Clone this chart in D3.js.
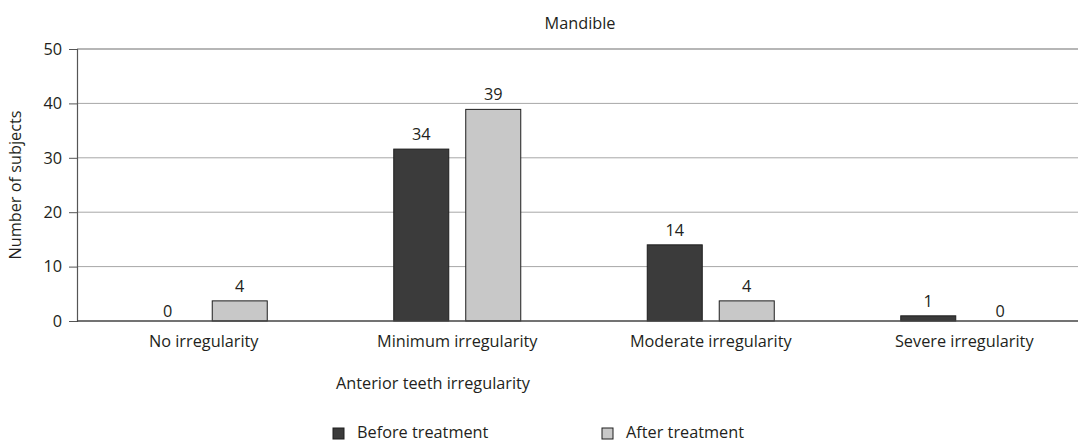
<!DOCTYPE html>
<html><head><meta charset="utf-8">
<script src="https://cdn.jsdelivr.net/npm/d3@7"></script>
<style>
html,body{margin:0;padding:0;background:#fff;}
svg text{font-family:"Open Sans","Noto Sans",sans-serif;fill:#231f20;}
</style></head>
<body><svg id="c" width="1078" height="443"></svg>
<script>
const categories = ["No irregularity","Minimum irregularity","Moderate irregularity","Severe irregularity"];
const seriesNames = ["Before treatment","After treatment"];
// bar heights as drawn in the picture
const beforeValues = [0, 31.6, 14, 0.95];
const afterValues = [3.7, 38.9, 3.7, 0];
// value labels as printed in the picture
const beforeLabels = ["0","34","14","1"];
const afterLabels = ["4","39","4","0"];
const yTicks = [0,10,20,30,40,50];
const colors = ["#3b3b3b","#c8c8c8"];

(function(){
const FS = 16.3;
const svg = d3.select("#c");
const pL = 77, pR = 1091, pT = 49, pB = 321;
const x0 = d3.scaleBand().domain(categories).range([pL, pR]).padding(0);
const groupW = 127;
const x1 = d3.scaleBand().domain(seriesNames).range([0, groupW]).paddingInner(0.236).paddingOuter(0);
const y = d3.scaleLinear().domain([0,50]).range([pB, pT]);

// gridlines
svg.append("g").selectAll("line").data(yTicks.filter(d=>d>0 && d<50)).join("line")
  .attr("x1", pL).attr("x2", 1078).attr("y1", d=>y(d)).attr("y2", d=>y(d))
  .attr("stroke","#a7a7a7").attr("stroke-width",1);
svg.append("line").attr("x1",pL).attr("x2",1078).attr("y1",y(50)).attr("y2",y(50))
  .attr("stroke","#6e6e6e").attr("stroke-width",1.2);

// y axis
const yAxis = d3.axisLeft(y).tickValues(yTicks).tickSize(8).tickPadding(7);
const ga = svg.append("g").attr("transform",`translate(${pL},0)`).call(yAxis);
ga.select(".domain").attr("stroke","#555").attr("stroke-width",1.2);
ga.selectAll(".tick line").attr("stroke","#555");
ga.selectAll(".tick text").attr("font-size",FS).attr("fill","#231f20")
  .style("font-family",'"Open Sans","Noto Sans",sans-serif');

// bars
const rows = categories.map((c,i)=>({c, vals:[
  {s:seriesNames[0], v:beforeValues[i], l:beforeLabels[i]},
  {s:seriesNames[1], v:afterValues[i], l:afterLabels[i]}]}));
const g = svg.append("g").selectAll("g").data(rows).join("g")
  .attr("transform", d=>`translate(${x0(d.c)+x0.bandwidth()/2-groupW/2},0)`);
g.selectAll("rect").data(d=>d.vals.filter(v=>v.v>0)).join("rect")
  .attr("x", d=>x1(d.s)).attr("width", x1.bandwidth())
  .attr("y", d=>y(d.v)).attr("height", d=>y(0)-y(d.v))
  .attr("fill", d=>colors[seriesNames.indexOf(d.s)])
  .attr("stroke","#1e1e1e").attr("stroke-width",1);
g.selectAll("text").data(d=>d.vals).join("text")
  .attr("x", d=>x1(d.s)+x1.bandwidth()/2)
  .attr("y", d=>y(d.v) - (d.v>0?9:4))
  .attr("text-anchor","middle").attr("font-size",FS).text(d=>d.l);

// x axis baseline
svg.append("line").attr("x1",pL).attr("x2",1078).attr("y1",y(0)).attr("y2",y(0))
  .attr("stroke","#444").attr("stroke-width",1.4);
const xAxis = d3.axisBottom(x0).tickSize(0).tickPadding(0);
const gx = svg.append("g").attr("transform",`translate(0,${pB})`).call(xAxis);
gx.select(".domain").remove();
gx.selectAll(".tick text").attr("font-size",FS).attr("dy",null).attr("y",26)
  .style("font-family",'"Open Sans","Noto Sans",sans-serif').attr("fill","#231f20");

// titles
svg.append("text").attr("x",580).attr("y",29).attr("text-anchor","middle").attr("font-size",FS).text("Mandible");
svg.append("text").attr("x",433).attr("y",389).attr("text-anchor","middle").attr("font-size",FS).text("Anterior teeth irregularity");
svg.append("text").attr("transform","translate(21,185) rotate(-90)").attr("text-anchor","middle").attr("font-size",FS).text("Number of subjects");

// legend
const legX = [333, 602];
const lg = svg.append("g").selectAll("g").data(seriesNames).join("g")
  .attr("transform",(d,i)=>`translate(${legX[i]},0)`);
lg.append("rect").attr("x",0).attr("y",428).attr("width",11).attr("height",11)
  .attr("fill",(d,i)=>colors[i]).attr("stroke","#1e1e1e").attr("stroke-width",1);
lg.append("text").attr("x",24).attr("y",438).attr("font-size",FS).text(d=>d);
})();
</script></body></html>
